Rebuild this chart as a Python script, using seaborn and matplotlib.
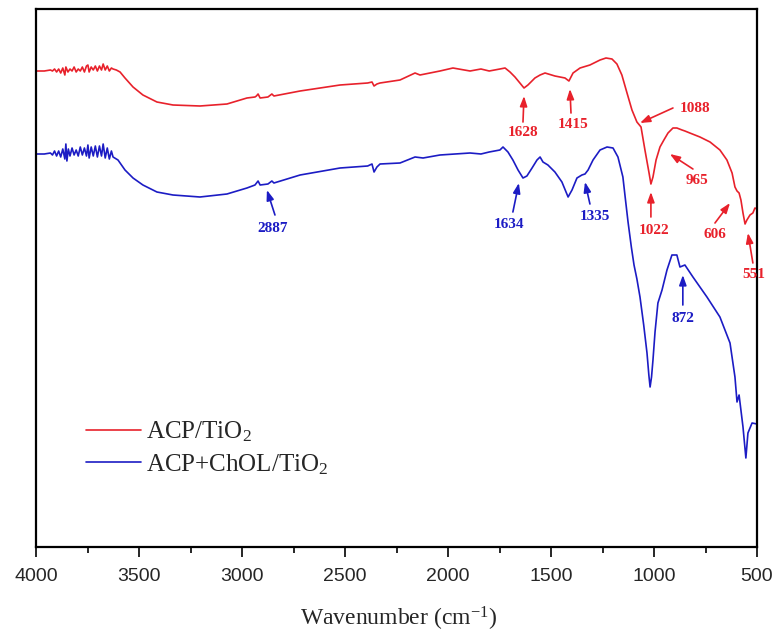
import numpy as np
import pandas as pd
import matplotlib
matplotlib.use("Agg")
import matplotlib.pyplot as plt
import seaborn as sns

# ---------------- data (arbitrary transmittance units) ----------------
red_wn = [4000, 3960, 3930, 3920, 3910, 3900, 3890, 3880, 3870, 3860, 3855, 3845, 3835, 3825,
          3815, 3805, 3795, 3785, 3775, 3765, 3755, 3748, 3742, 3732, 3722, 3712, 3702, 3692,
          3682, 3674, 3664, 3654, 3644, 3634, 3626, 3610, 3592, 3568, 3529, 3481, 3413,
          3335, 3204, 3073, 2976, 2937, 2930, 2922, 2912, 2874, 2855, 2845, 2718, 2524, 2390,
          2369, 2359, 2345, 2330, 2233, 2160, 2136, 2039, 1976, 1893, 1840, 1800, 1748, 1723,
          1699, 1675, 1651, 1631, 1612, 1578, 1553, 1529, 1481, 1432, 1413, 1393, 1359, 1311,
          1262, 1233, 1204, 1180, 1156, 1131, 1107, 1083, 1063, 1044, 1024, 1015, 1005, 990,
          971, 952, 932, 908, 889, 864, 850, 826, 777, 728, 680, 646, 621, 607, 597, 587,
          578, 568, 558, 549, 534, 520, 510, 500]
red_T = [476, 476, 477, 476, 478, 475, 478, 474, 479, 472, 480, 475, 478, 476,
         480, 475, 478, 476, 480, 475, 481, 482, 475, 480, 477, 481, 476, 481,
         477, 483, 477, 481, 476, 479, 478, 477, 475, 469, 460, 452, 445,
         442, 441, 443, 449, 450, 451, 453, 449, 450, 453, 451, 456, 462, 464,
         465, 461, 463, 464, 467, 474, 472, 476, 479, 476, 478, 476, 478, 479,
         475, 470, 464, 459, 462, 469, 472, 474, 471, 469, 466, 474, 479, 482,
         487, 489, 488, 483, 472, 454, 437, 425, 420, 397, 374, 363, 370, 387,
         400, 407, 414, 419, 419, 417, 416, 414, 410, 405, 397, 387, 374, 360, 356, 354,
         347, 334, 323, 327, 332, 334, 339, 338]

blue_wn = [4000, 3960, 3930, 3920, 3910, 3900, 3890, 3880, 3870, 3860, 3855, 3850, 3843, 3835,
           3825, 3815, 3805, 3795, 3785, 3775, 3765, 3755, 3748, 3742, 3732, 3722, 3712, 3702,
           3692, 3682, 3674, 3664, 3654, 3644, 3634, 3626, 3602, 3568, 3529, 3481, 3413,
           3335, 3204, 3073, 2976, 2937, 2922, 2912, 2874, 2855, 2845, 2718, 2524,
           2390, 2369, 2359, 2345, 2330, 2233, 2160, 2121, 2039, 1893, 1840, 1800, 1748, 1733,
           1709, 1685, 1660, 1636, 1617, 1592, 1568, 1553, 1539, 1515, 1481, 1447, 1417, 1398,
           1374, 1350, 1335, 1320, 1296, 1262, 1228, 1199, 1175, 1151, 1140, 1126, 1110, 1097,
           1083, 1068, 1050, 1034, 1025, 1019, 1012, 1005, 995, 981, 961, 937, 913, 889, 874,
           850, 811, 743, 680, 631, 607, 597, 587, 568, 554, 544, 524, 500]
blue_T = [393, 393, 394, 392, 396, 391, 396, 390, 398, 388, 403, 386, 398, 391,
          399, 392, 397, 391, 400, 392, 399, 391, 402, 389, 400, 391, 401, 390,
          401, 391, 403, 389, 399, 388, 396, 390, 387, 377, 369, 362, 355,
          352, 350, 353, 359, 362, 366, 362, 363, 366, 364, 372, 379,
          381, 383, 375, 380, 383, 384, 390, 389, 392, 394, 393, 395, 397, 400,
          395, 387, 377, 369, 371, 379, 387, 390, 385, 382, 375, 365, 350, 357,
          369, 372, 373, 377, 387, 397, 400, 399, 390, 370, 350, 325, 300, 282,
          268, 250, 222, 194, 172, 160, 170, 187, 215, 244, 257, 277, 292, 292, 280,
          282, 270, 250, 230, 204, 170, 145, 152, 120, 89, 114, 124, 123]

series_names = ["ACP/TiO$_2$", "ACP+ChOL/TiO$_2$"]
series_colors = ["#e8212b", "#1c1cc4"]

# peak labels: (label, tip wn, tip T, tail wn, tail T, text wn, text T)
red_peaks = [("1628", 1631, 451, 1636, 425, 1636, 414),
             ("1415", 1408, 458, 1403, 434, 1393, 422),
             ("1088", 1068, 424, 908, 439, 801, 439),
             ("965", 923, 393, 811, 378, 792, 366),
             ("1022", 1015, 355, 1015, 330, 1000, 317),
             ("606", 631, 344, 704, 324, 704, 313),
             ("551", 544, 314, 520, 284, 515, 272)]
blue_peaks = [("2887", 2879, 357, 2840, 332, 2850, 318),
              ("1634", 1656, 364, 1685, 335, 1704, 322),
              ("1335", 1335, 365, 1311, 343, 1287, 331),
              ("872", 860, 272, 860, 242, 860, 229)]

x_ticks = [4000, 3500, 3000, 2500, 2000, 1500, 1000, 500]

# ---------------- plotting ----------------
sns.set_theme(style="ticks")
plt.rcParams["font.family"] = ["Liberation Serif", "DejaVu Serif"]
plt.rcParams["mathtext.fontset"] = "custom"
plt.rcParams["mathtext.rm"] = "Liberation Serif"
plt.rcParams["mathtext.it"] = "Liberation Serif:italic"
plt.rcParams["mathtext.bf"] = "Liberation Serif:bold"

df = pd.concat([
    pd.DataFrame({"wn": red_wn, "T": red_T, "sample": series_names[0]}),
    pd.DataFrame({"wn": blue_wn, "T": blue_T, "sample": series_names[1]}),
])

fig = plt.figure(figsize=(7.76, 6.33), dpi=100)
ax = fig.add_axes([36 / 776, 1 - 547 / 633, (757 - 36) / 776, (547 - 9) / 633])

sns.lineplot(data=df, x="wn", y="T", hue="sample", palette=series_colors,
             estimator=None, sort=True, linewidth=1.2, ax=ax)

ax.set_xlim(4000, 500)
ax.set_ylim(0, 538)
ax.set_yticks([])
ax.set_ylabel("")
ax.set_xticks(x_ticks)
ax.set_xticklabels([str(t) for t in x_ticks], family="Liberation Sans", fontsize=14)
ax.set_xticks(np.arange(3750, 500, -500), minor=True)
ax.tick_params(axis="x", which="major", direction="out", length=7, width=1.4, pad=8)
ax.tick_params(axis="x", which="minor", direction="out", length=4, width=1.4)
for s in ax.spines.values():
    s.set_visible(True)
    s.set_color("black")
    s.set_linewidth(1.6)
ax.set_xlabel("")
fig.text(0.5 * (36 + 757) / 776 + 0.003, 1 - 626 / 633, "Wavenumber (cm$^{-1}$)",
         fontsize=17, ha="center", va="baseline")

for peaks, col in ((red_peaks, series_colors[0]), (blue_peaks, series_colors[1])):
    for lab, tx, ty, sx, sy, lx, ly in peaks:
        ax.annotate("", xy=(tx, ty), xytext=(sx, sy),
                    arrowprops=dict(arrowstyle="-|>,head_length=0.5,head_width=0.18",
                                    color=col, lw=1.2, shrinkA=0, shrinkB=0))
        ax.text(lx, ly, lab, color=col, fontsize=11, fontweight="bold",
                ha="center", va="center")

leg = ax.legend(loc="center left", bbox_to_anchor=(0.069, 0.184), frameon=False,
                fontsize=18, handlelength=2.2, handletextpad=0.2, labelspacing=0.33,
                borderpad=0, borderaxespad=0)
for h in leg.get_lines():
    h.set_linewidth(1.2)
leg.set_title(None)

fig.savefig("out.png", dpi=100)
